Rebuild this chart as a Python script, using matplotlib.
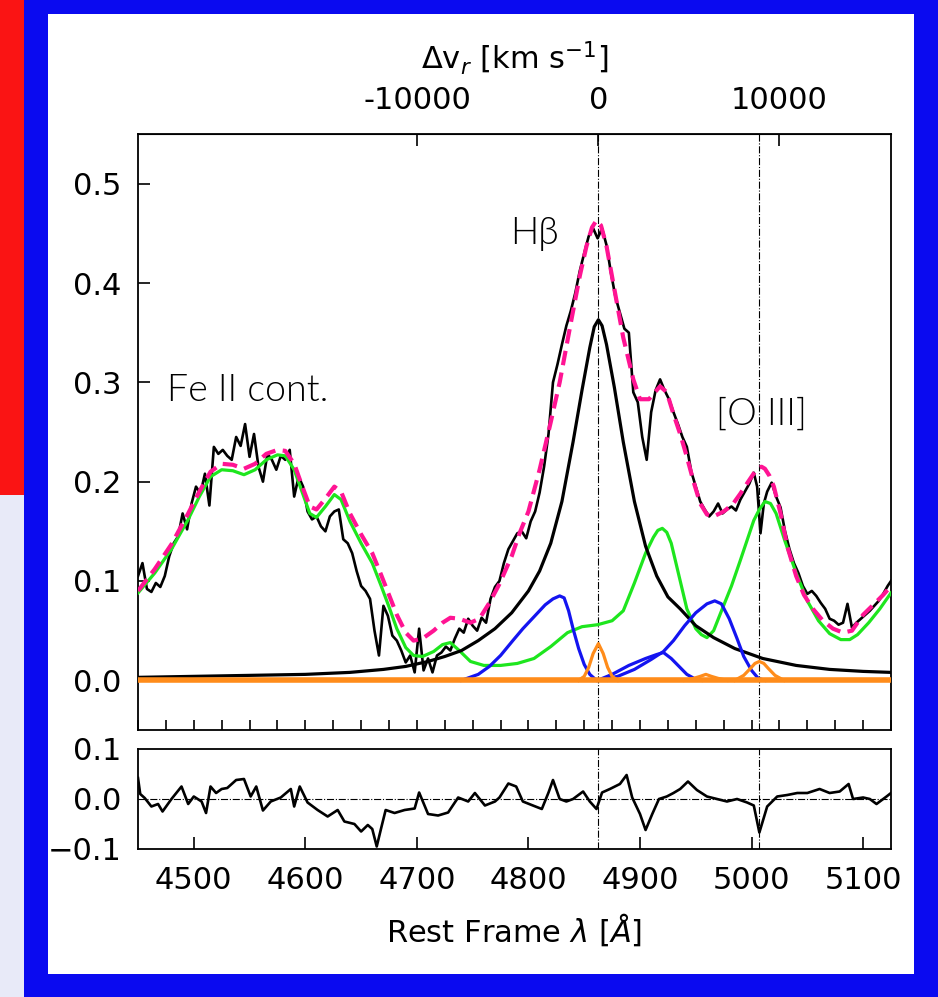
import numpy as np
import matplotlib.pyplot as plt
from matplotlib.patches import Rectangle
from matplotlib.ticker import MultipleLocator, FixedLocator

# observed spectrum (rest frame)
wave_obs = [4450, 4454, 4458, 4462, 4466, 4470, 4474, 4478, 4482, 4486, 4490, 4494, 4498, 4502, 4506,
            4510, 4514, 4518, 4522, 4526, 4530, 4534, 4538, 4542, 4546, 4550, 4554, 4558, 4562, 4566,
            4570, 4574, 4578, 4582, 4586, 4590, 4594, 4598, 4602, 4606, 4610, 4614, 4618, 4622, 4626,
            4630, 4634, 4638, 4642, 4646, 4650, 4654, 4658, 4662, 4666, 4670, 4674, 4678, 4682, 4686,
            4690, 4694, 4698, 4702, 4706, 4710, 4714, 4718, 4722, 4726, 4730, 4734, 4738, 4742, 4746,
            4750, 4754, 4758, 4762, 4766, 4770, 4774, 4778, 4782, 4786, 4790, 4794, 4798, 4802, 4806,
            4810, 4814, 4818, 4822, 4826, 4830, 4834, 4838, 4842, 4846, 4850, 4854, 4858, 4862, 4866,
            4870, 4874, 4878, 4882, 4886, 4890, 4894, 4898, 4902, 4906, 4910, 4914, 4918, 4922, 4926,
            4930, 4934, 4938, 4942, 4946, 4950, 4954, 4958, 4962, 4966, 4970, 4974, 4978, 4982, 4986,
            4990, 4994, 4998, 5002, 5005, 5008, 5011, 5014, 5018, 5022, 5026, 5030, 5034, 5038, 5042,
            5046, 5050, 5054, 5058, 5062, 5066, 5070, 5074, 5078, 5082, 5086, 5090, 5094, 5098, 5102,
            5106, 5110, 5114, 5118, 5122, 5125]
flux_obs = [0.105, 0.118, 0.092, 0.089, 0.098, 0.094, 0.105, 0.125, 0.138, 0.145, 0.168, 0.152, 0.178, 0.195, 0.188,
            0.208, 0.176, 0.235, 0.228, 0.232, 0.226, 0.222, 0.245, 0.236, 0.258, 0.225, 0.248, 0.215, 0.200, 0.228,
            0.222, 0.212, 0.226, 0.222, 0.232, 0.185, 0.205, 0.195, 0.170, 0.162, 0.165, 0.155, 0.150, 0.165, 0.170,
            0.172, 0.142, 0.138, 0.128, 0.110, 0.095, 0.090, 0.082, 0.050, 0.025, 0.075, 0.065, 0.045, 0.040, 0.030,
            0.018, 0.025, 0.008, 0.052, 0.010, 0.022, 0.008, 0.025, 0.028, 0.034, 0.030, 0.042, 0.052, 0.048, 0.062,
            0.055, 0.050, 0.063, 0.058, 0.082, 0.094, 0.100, 0.118, 0.132, 0.140, 0.148, 0.150, 0.143, 0.160, 0.170,
            0.189, 0.215, 0.248, 0.300, 0.318, 0.338, 0.357, 0.372, 0.390, 0.412, 0.430, 0.447, 0.455, 0.445, 0.455,
            0.438, 0.410, 0.386, 0.370, 0.354, 0.350, 0.290, 0.280, 0.245, 0.222, 0.270, 0.292, 0.303, 0.292, 0.283,
            0.270, 0.258, 0.245, 0.235, 0.210, 0.195, 0.180, 0.172, 0.165, 0.170, 0.178, 0.168, 0.172, 0.175, 0.171,
            0.182, 0.190, 0.198, 0.209, 0.195, 0.148, 0.178, 0.190, 0.199, 0.185, 0.174, 0.150, 0.132, 0.118, 0.108,
            0.095, 0.087, 0.090, 0.085, 0.078, 0.072, 0.062, 0.060, 0.056, 0.058, 0.077, 0.053, 0.058, 0.062, 0.066,
            0.070, 0.075, 0.080, 0.087, 0.095, 0.100]

# total model
wave_tot = [4450, 4465, 4480, 4495, 4505, 4515, 4525, 4535, 4545, 4555, 4565, 4575, 4582, 4590, 4597,
            4604, 4610, 4618, 4626, 4632, 4640, 4650, 4660, 4668, 4675, 4682, 4690, 4697, 4705, 4715,
            4723, 4730, 4738, 4748, 4756, 4765, 4774, 4785, 4792, 4800, 4810, 4820, 4828, 4838, 4846,
            4852, 4857, 4861, 4865, 4870, 4876, 4885, 4894, 4900, 4908, 4918, 4924, 4930, 4936, 4942,
            4948, 4954, 4960, 4966, 4975, 4983, 4990, 4997, 5003, 5006, 5009, 5012, 5016, 5020, 5026,
            5032, 5040, 5047, 5055, 5064, 5073, 5082, 5090, 5100, 5110, 5118, 5125]
flux_tot = [0.090, 0.112, 0.137, 0.168, 0.190, 0.210, 0.218, 0.217, 0.213, 0.218, 0.228, 0.232, 0.231, 0.218, 0.196,
            0.175, 0.172, 0.183, 0.195, 0.190, 0.168, 0.147, 0.128, 0.106, 0.086, 0.066, 0.048, 0.040, 0.042, 0.050,
            0.058, 0.063, 0.062, 0.058, 0.062, 0.078, 0.097, 0.125, 0.148, 0.170, 0.212, 0.260, 0.300, 0.360, 0.407,
            0.437, 0.456, 0.463, 0.458, 0.437, 0.400, 0.345, 0.303, 0.283, 0.283, 0.296, 0.290, 0.268, 0.248, 0.225,
            0.200, 0.178, 0.167, 0.165, 0.170, 0.177, 0.188, 0.200, 0.210, 0.214, 0.215, 0.213, 0.206, 0.195, 0.168,
            0.135, 0.105, 0.086, 0.072, 0.060, 0.052, 0.048, 0.050, 0.066, 0.077, 0.086, 0.095]

# Fe II template
wave_fe = [4450, 4465, 4480, 4495, 4505, 4515, 4525, 4535, 4545, 4555, 4565, 4575, 4582, 4590, 4597,
           4604, 4610, 4618, 4626, 4632, 4640, 4650, 4660, 4668, 4675, 4682, 4690, 4697, 4705, 4715,
           4723, 4730, 4738, 4748, 4760, 4775, 4790, 4805, 4820, 4835, 4848, 4862, 4875, 4885, 4895,
           4905, 4912, 4916, 4920, 4924, 4928, 4935, 4942, 4950, 4955, 4960, 4966, 4972, 4982, 4990,
           5002, 5007, 5012, 5017, 5022, 5030, 5040, 5050, 5060, 5070, 5080, 5088, 5095, 5105, 5115,
           5125]
flux_fe = [0.088, 0.108, 0.132, 0.162, 0.185, 0.205, 0.212, 0.211, 0.207, 0.212, 0.222, 0.227, 0.226, 0.212, 0.190,
           0.168, 0.164, 0.175, 0.187, 0.182, 0.160, 0.138, 0.118, 0.095, 0.074, 0.052, 0.033, 0.025, 0.024, 0.029,
           0.036, 0.038, 0.030, 0.019, 0.015, 0.015, 0.017, 0.022, 0.034, 0.048, 0.054, 0.056, 0.060, 0.070, 0.098,
           0.128, 0.144, 0.151, 0.153, 0.149, 0.138, 0.105, 0.072, 0.052, 0.046, 0.043, 0.050, 0.067, 0.095, 0.121,
           0.161, 0.172, 0.180, 0.178, 0.168, 0.140, 0.108, 0.080, 0.060, 0.047, 0.041, 0.041, 0.046, 0.058, 0.072,
           0.088]

# broad H-beta
wave_bro = [4450, 4500, 4550, 4600, 4640, 4670, 4690, 4710, 4725, 4740, 4755, 4770, 4785, 4800, 4810,
            4820, 4830, 4840, 4848, 4855, 4859, 4862.7, 4866, 4870, 4877, 4885, 4895, 4905, 4915, 4925,
            4936, 4950, 4966, 4985, 5010, 5040, 5070, 5100, 5125]
flux_bro = [0.003, 0.004, 0.005, 0.006, 0.008, 0.011, 0.014, 0.019, 0.024, 0.030, 0.040, 0.052, 0.068, 0.090, 0.110,
            0.138, 0.180, 0.240, 0.292, 0.335, 0.356, 0.363, 0.357, 0.338, 0.295, 0.240, 0.180, 0.135, 0.105, 0.084,
            0.072, 0.055, 0.043, 0.032, 0.022, 0.015, 0.011, 0.009, 0.008]

# blue components
wave_b1 = [4740, 4755, 4765, 4775, 4786, 4795, 4805, 4815, 4822, 4828, 4832, 4836, 4840, 4845, 4850, 4855, 4860, 4870]
flux_b1 = [0.000, 0.006, 0.014, 0.025, 0.040, 0.052, 0.064, 0.076, 0.082, 0.085, 0.083, 0.070, 0.052, 0.032, 0.016, 0.006, 0.001, 0.000]
wave_b2 = [4862, 4875, 4890, 4905, 4915, 4921, 4928, 4935, 4942, 4950, 4955]
flux_b2 = [0.000, 0.006, 0.015, 0.022, 0.026, 0.028, 0.022, 0.014, 0.006, 0.001, 0.000]
wave_b3 = [4862, 4880, 4895, 4910, 4921, 4930, 4940, 4950, 4960, 4967, 4973, 4980, 4987, 4993, 5000, 5006, 5012]
flux_b3 = [0.000, 0.004, 0.011, 0.021, 0.029, 0.040, 0.055, 0.068, 0.077, 0.080, 0.077, 0.062, 0.042, 0.024, 0.010, 0.002, 0.000]

# narrow lines
wave_nhb = [4845, 4850, 4854, 4858, 4862.7, 4867, 4871, 4875, 4880]
flux_nhb = [0.000, 0.004, 0.013, 0.027, 0.037, 0.027, 0.013, 0.004, 0.000]
wave_o1 = [4940, 4948, 4954, 4959, 4964, 4970, 4978]
flux_o1 = [0.000, 0.002, 0.004, 0.006, 0.004, 0.002, 0.000]
wave_o2 = [4985, 4993, 4999, 5003, 5007, 5011, 5015, 5021, 5029]
flux_o2 = [0.000, 0.005, 0.012, 0.017, 0.019, 0.017, 0.012, 0.005, 0.000]

# residuals
wave_res = [4450, 4452, 4456, 4462, 4468, 4472, 4480, 4489, 4495, 4500, 4507, 4511, 4515, 4520, 4525,
            4530, 4538, 4545, 4551, 4556, 4562, 4569, 4578, 4587, 4590, 4595, 4602, 4611, 4620, 4629,
            4635, 4644, 4650, 4656, 4660, 4664, 4668, 4672, 4680, 4689, 4698, 4702, 4710, 4719, 4728,
            4737, 4746, 4752, 4761, 4770, 4774, 4782, 4789, 4795, 4804, 4812, 4818, 4822, 4828, 4834,
            4840, 4849, 4855, 4861, 4866, 4873, 4882, 4888, 4893, 4900, 4905, 4911, 4917, 4924, 4930,
            4936, 4943, 4951, 4960, 4969, 4978, 4987, 4996, 5002, 5007, 5014, 5023, 5032, 5041, 5050,
            5061, 5070, 5079, 5087, 5091, 5100, 5106, 5112, 5121, 5125]
flux_res = [0.042, 0.010, 0.002, -0.015, -0.010, -0.025, 0.000, 0.025, -0.010, 0.005, -0.005, -0.028, 0.025, 0.012, 0.020,
            0.022, 0.038, 0.040, 0.005, 0.025, -0.023, -0.005, 0.003, 0.020, -0.015, 0.025, -0.007, -0.022, -0.035, -0.022,
            -0.045, -0.050, -0.065, -0.052, -0.060, -0.095, -0.058, -0.022, -0.028, -0.022, -0.019, 0.013, -0.030, -0.033, -0.027,
            0.003, -0.005, 0.012, -0.013, -0.005, 0.003, 0.031, 0.025, -0.005, -0.013, -0.020, 0.013, 0.038, 0.000, -0.005,
            0.000, 0.015, -0.005, -0.020, 0.013, 0.020, 0.030, 0.048, 0.003, -0.030, -0.062, -0.030, 0.000, 0.005, 0.012,
            0.020, 0.035, 0.018, 0.005, 0.000, -0.005, 0.000, -0.007, -0.013, -0.067, -0.015, 0.005, 0.008, 0.012, 0.012,
            0.020, 0.012, 0.015, 0.030, 0.000, 0.003, 0.000, -0.010, 0.005, 0.012]

hb_wave = 4862.68
oiii_wave = 5006.84
c_kms = 299792.458
vel_ticks = [-10000, 0, 10000]
vel_labels = ['-10000', '0', '10000']


def lam2vel(lam):
    return (np.asarray(lam) / hb_wave - 1.0) * c_kms


def vel2lam(v):
    return hb_wave * (1.0 + np.asarray(v) / c_kms)


plt.rcParams['font.family'] = 'DejaVu Sans'
plt.rcParams['font.size'] = 22

W, H = 938, 997
fig = plt.figure(figsize=(W / 100, H / 100), dpi=100, facecolor='#0a0af0')


def px_rect(x0, y0, x1, y1, color):
    fig.add_artist(Rectangle((x0 / W, 1 - y1 / H), (x1 - x0) / W, (y1 - y0) / H,
                             transform=fig.transFigure, color=color, lw=0, zorder=-10))


px_rect(48, 14, 914, 974, 'white')
px_rect(0, 0, 24, 495, '#fa1414')
px_rect(0, 495, 24, H, '#e8eaf8')

ax = fig.add_axes([138 / W, 1 - 730 / H, 753 / W, 596 / H])
axr = fig.add_axes([138 / W, 1 - 849 / H, 753 / W, 100 / H])

# main panel
ax.plot(wave_obs, flux_obs, color='black', lw=1.9, zorder=3)
ax.plot(wave_fe, flux_fe, color='#1ee61e', lw=2.3, zorder=4)
ax.plot(wave_bro, flux_bro, color='black', lw=2.3, zorder=4)
for wb, fb in [(wave_b1, flux_b1), (wave_b2, flux_b2), (wave_b3, flux_b3)]:
    ax.plot(wb, fb, color='#1414f0', lw=2.3, zorder=4)
ax.axhline(0, color='#ff8c1a', lw=4, zorder=4)
for wn, fn in [(wave_nhb, flux_nhb), (wave_o1, flux_o1), (wave_o2, flux_o2)]:
    ax.plot(wn, fn, color='#ff8c1a', lw=2.3, zorder=4)
ax.plot(wave_tot, flux_tot, color='#ff1493', lw=3, ls='--', dashes=(3.5, 1.8), zorder=5)
for w in (hb_wave, oiii_wave):
    ax.axvline(w, color='black', lw=0.8, ls='-.', zorder=2)

ax.set_xlim(4450, 5125)
ax.set_ylim(-0.05, 0.55)
ax.set_yticks([0.0, 0.1, 0.2, 0.3, 0.4, 0.5])
ax.xaxis.set_major_locator(MultipleLocator(25))
ax.tick_params(axis='x', which='both', direction='in', length=7, width=1.2,
               labelbottom=False, top=False)
ax.tick_params(axis='y', direction='in', length=8.5, width=1.2, pad=12, right=False)
for s in ax.spines.values():
    s.set_linewidth(1.3)

secax = ax.secondary_xaxis('top', functions=(lam2vel, vel2lam))
secax.xaxis.set_major_locator(FixedLocator(vel_ticks))
secax.set_xticklabels(vel_labels)
secax.xaxis.set_minor_locator(FixedLocator([]))
secax.tick_params(direction='in', length=8.5, width=1.2, pad=14)
secax.set_xlabel(r'$\Delta$v$_r$ [km s$^{-1}$]', labelpad=12)

ann_font = dict(family='Lato', fontweight=300, fontsize=27, color='black')
ax.text(4476, 0.281, 'Fe II cont.', ha='left', va='baseline', **ann_font)
ax.text(4784, 0.439, 'H\u03b2', ha='left', va='baseline', **ann_font)
ax.text(4968, 0.257, '[O III]', ha='left', va='baseline', **ann_font)

# residual panel
axr.plot(wave_res, flux_res, color='black', lw=1.9, zorder=3)
axr.axhline(0, color='black', lw=0.8, ls='-.', zorder=2)
for w in (hb_wave, oiii_wave):
    axr.axvline(w, color='black', lw=0.8, ls='-.', zorder=2)
axr.set_xlim(4450, 5125)
axr.set_ylim(-0.1, 0.1)
axr.set_yticks([-0.1, 0.0, 0.1])
axr.set_xticks([4500, 4600, 4700, 4800, 4900, 5000, 5100])
axr.tick_params(axis='x', direction='in', length=8.5, width=1.2, pad=12, top=False)
axr.tick_params(axis='y', direction='in', length=0, pad=12, right=False)
for s in axr.spines.values():
    s.set_linewidth(1.3)
axr.set_xlabel(r'Rest Frame $\lambda$ [$\AA$]', labelpad=12)

fig.savefig('out.png', dpi=100, facecolor=fig.get_facecolor())
